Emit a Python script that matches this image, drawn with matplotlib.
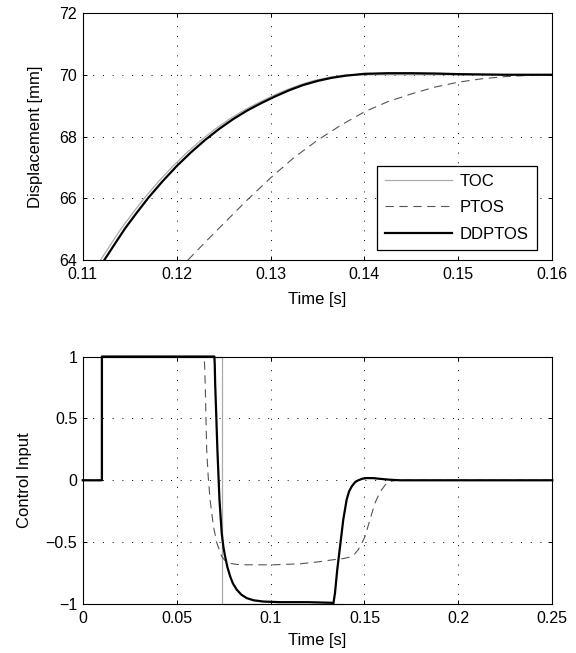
import matplotlib
matplotlib.use("Agg")
import matplotlib.pyplot as plt

plt.rcParams['font.family'] = ['Liberation Sans', 'DejaVu Sans']
plt.rcParams['font.size'] = 12

# ---- top panel: displacement near the end of the move ----
toc_t = [0.1119, 0.1131, 0.1141, 0.1154, 0.1166, 0.1181, 0.1196, 0.1211,
         0.1226, 0.1241, 0.1256, 0.1271, 0.1286, 0.1301, 0.1316, 0.1331,
         0.1346, 0.1361, 0.1376, 0.1387, 0.16]
toc_y = [64.0, 64.56, 65.02, 65.55, 66.02, 66.55, 67.04, 67.48,
         67.88, 68.24, 68.56, 68.84, 69.08, 69.3, 69.5, 69.67,
         69.81, 69.91, 69.98, 70.0, 70.0]

ptos_t = [0.1212, 0.1235, 0.1255, 0.1275, 0.13, 0.1325, 0.135, 0.1375, 0.14,
          0.1425, 0.145, 0.1475, 0.15, 0.1525, 0.155, 0.1575, 0.16]
ptos_y = [64.0, 64.72, 65.33, 65.94, 66.66, 67.32, 67.88, 68.37, 68.8,
          69.13, 69.38, 69.6, 69.76, 69.87, 69.94, 69.98, 70.0]

dd_t = [0.1123, 0.1135, 0.1145, 0.1158, 0.117, 0.1185, 0.12, 0.1215, 0.123,
        0.1245, 0.126, 0.1275, 0.129, 0.1305, 0.132, 0.1335, 0.135, 0.1365,
        0.138, 0.14, 0.1425, 0.145, 0.1475, 0.15, 0.155, 0.16]
dd_y = [64.0, 64.56, 65.02, 65.55, 66.02, 66.55, 67.04, 67.48, 67.88,
        68.24, 68.56, 68.84, 69.08, 69.3, 69.5, 69.67, 69.8, 69.9,
        69.97, 70.03, 70.05, 70.05, 70.04, 70.02, 70.0, 70.0]

top_xticks = [0.11, 0.12, 0.13, 0.14, 0.15, 0.16]
top_xlabels = ['0.11', '0.12', '0.13', '0.14', '0.15', '0.16']
top_yticks = [64, 66, 68, 70, 72]

# ---- bottom panel: control input ----
u_toc_t = [0, 0.0102, 0.0102, 0.0742, 0.0742, 0.1387]
u_toc = [0, 0, 1, 1, -1, -1]

u_ptos_t = [0, 0.0102, 0.0102, 0.0646, 0.0649, 0.0652, 0.066, 0.0668, 0.0678,
            0.0696, 0.0714, 0.074, 0.0758, 0.0776, 0.082, 0.0873, 0.1015,
            0.1157, 0.125, 0.1334, 0.139, 0.1423, 0.1448, 0.1467, 0.1485,
            0.1503, 0.1529, 0.1556, 0.1575, 0.1591, 0.1612, 0.1636, 0.1665,
            0.169, 0.25]
u_ptos = [0, 0, 1, 1, 0.93, 0.785, 0.246, 0.03, -0.157,
          -0.373, -0.507, -0.615, -0.65, -0.669, -0.68, -0.683, -0.683,
          -0.675, -0.66, -0.642, -0.632, -0.62, -0.595, -0.56, -0.51,
          -0.454, -0.319, -0.184, -0.12, -0.077, -0.035, -0.01, -0.002,
          0, 0]

u_dd_t = [0, 0.0102, 0.0102, 0.0701, 0.0703, 0.0705, 0.0711, 0.0717, 0.0728,
          0.074, 0.0749, 0.0758, 0.077, 0.0785, 0.08, 0.082, 0.0845, 0.0873,
          0.091, 0.0962, 0.105, 0.12, 0.1325, 0.1334, 0.1343, 0.1355, 0.137,
          0.1387, 0.1405, 0.1418, 0.1432, 0.145, 0.1467, 0.149, 0.1512,
          0.155, 0.158, 0.163, 0.169, 0.25]
u_dd = [0, 0, 1, 1, 0.93, 0.785, 0.52, 0.246, -0.157,
        -0.427, -0.54, -0.615, -0.7, -0.777, -0.835, -0.884, -0.925, -0.952,
        -0.97, -0.98, -0.985, -0.985, -0.99, -1.0, -0.911, -0.723, -0.535,
        -0.319, -0.157, -0.09, -0.05, -0.015, 0.0, 0.013, 0.018,
        0.017, 0.012, 0.005, 0.0, 0.0]

bot_xticks = [0, 0.05, 0.1, 0.15, 0.2, 0.25]
bot_xlabels = ['0', '0.05', '0.1', '0.15', '0.2', '0.25']
bot_yticks = [-1, -0.5, 0, 0.5, 1]
bot_ylabels = ['\u22121', '\u22120.5', '0', '0.5', '1']

fig = plt.figure(figsize=(5.76, 6.53), dpi=100)
ax1 = fig.add_axes([0.1436, 0.6018, 0.8153, 0.3783])
ax2 = fig.add_axes([0.1436, 0.0750, 0.8153, 0.3790])

grid_style = dict(color='black', linestyle=(0, (1, 9)), linewidth=0.7)
dash = (0, (7.5, 5))

ax1.plot(toc_t, toc_y, color='#aaaaaa', lw=0.9, label='TOC')
ax1.plot(ptos_t, ptos_y, color='#555555', lw=0.8, linestyle=dash, label='PTOS')
ax1.plot(dd_t, dd_y, color='black', lw=1.6, label='DDPTOS')
ax1.set_xlim(0.11, 0.16)
ax1.set_ylim(64, 72)
ax1.set_xticks(top_xticks)
ax1.set_xticklabels(top_xlabels)
ax1.set_yticks(top_yticks)
ax1.set_xlabel('Time [s]', fontsize=12)
ax1.set_ylabel('Displacement [mm]', fontsize=12)
ax1.xaxis.set_label_coords(0.5, -0.129)
ax1.yaxis.set_label_coords(-0.085, 0.5)
leg = ax1.legend(loc='lower right', bbox_to_anchor=(0.9668, 0.0407),
                 borderaxespad=0, fontsize=12, handlelength=4.0,
                 handletextpad=0.45, labelspacing=0.68, borderpad=0.5,
                 fancybox=False, framealpha=1)
leg.get_frame().set_edgecolor('black')
leg.get_frame().set_linewidth(0.9)

ax2.plot(u_toc_t, u_toc, color='#aaaaaa', lw=0.9, clip_on=False)
ax2.plot(u_ptos_t, u_ptos, color='#555555', lw=0.8, linestyle=dash, clip_on=False)
ax2.plot(u_dd_t, u_dd, color='black', lw=1.6, clip_on=False)
ax2.set_xlim(0, 0.25)
ax2.set_ylim(-1, 1)
ax2.set_xticks(bot_xticks)
ax2.set_xticklabels(bot_xlabels)
ax2.set_yticks(bot_yticks)
ax2.set_yticklabels(bot_ylabels)
ax2.set_xlabel('Time [s]', fontsize=12)
ax2.set_ylabel('Control Input', fontsize=12)
ax2.xaxis.set_label_coords(0.5, -0.116)
ax2.yaxis.set_label_coords(-0.107, 0.5)

for ax in (ax1, ax2):
    ax.grid(True, **grid_style)
    ax.tick_params(direction='in', top=True, right=True, length=3,
                   width=0.7, labelsize=11.5)
    ax.tick_params(axis='x', pad=5)
    ax.tick_params(axis='y', pad=4)
    for s in ax.spines.values():
        s.set_linewidth(0.8)

fig.savefig('out.png', dpi=100)
